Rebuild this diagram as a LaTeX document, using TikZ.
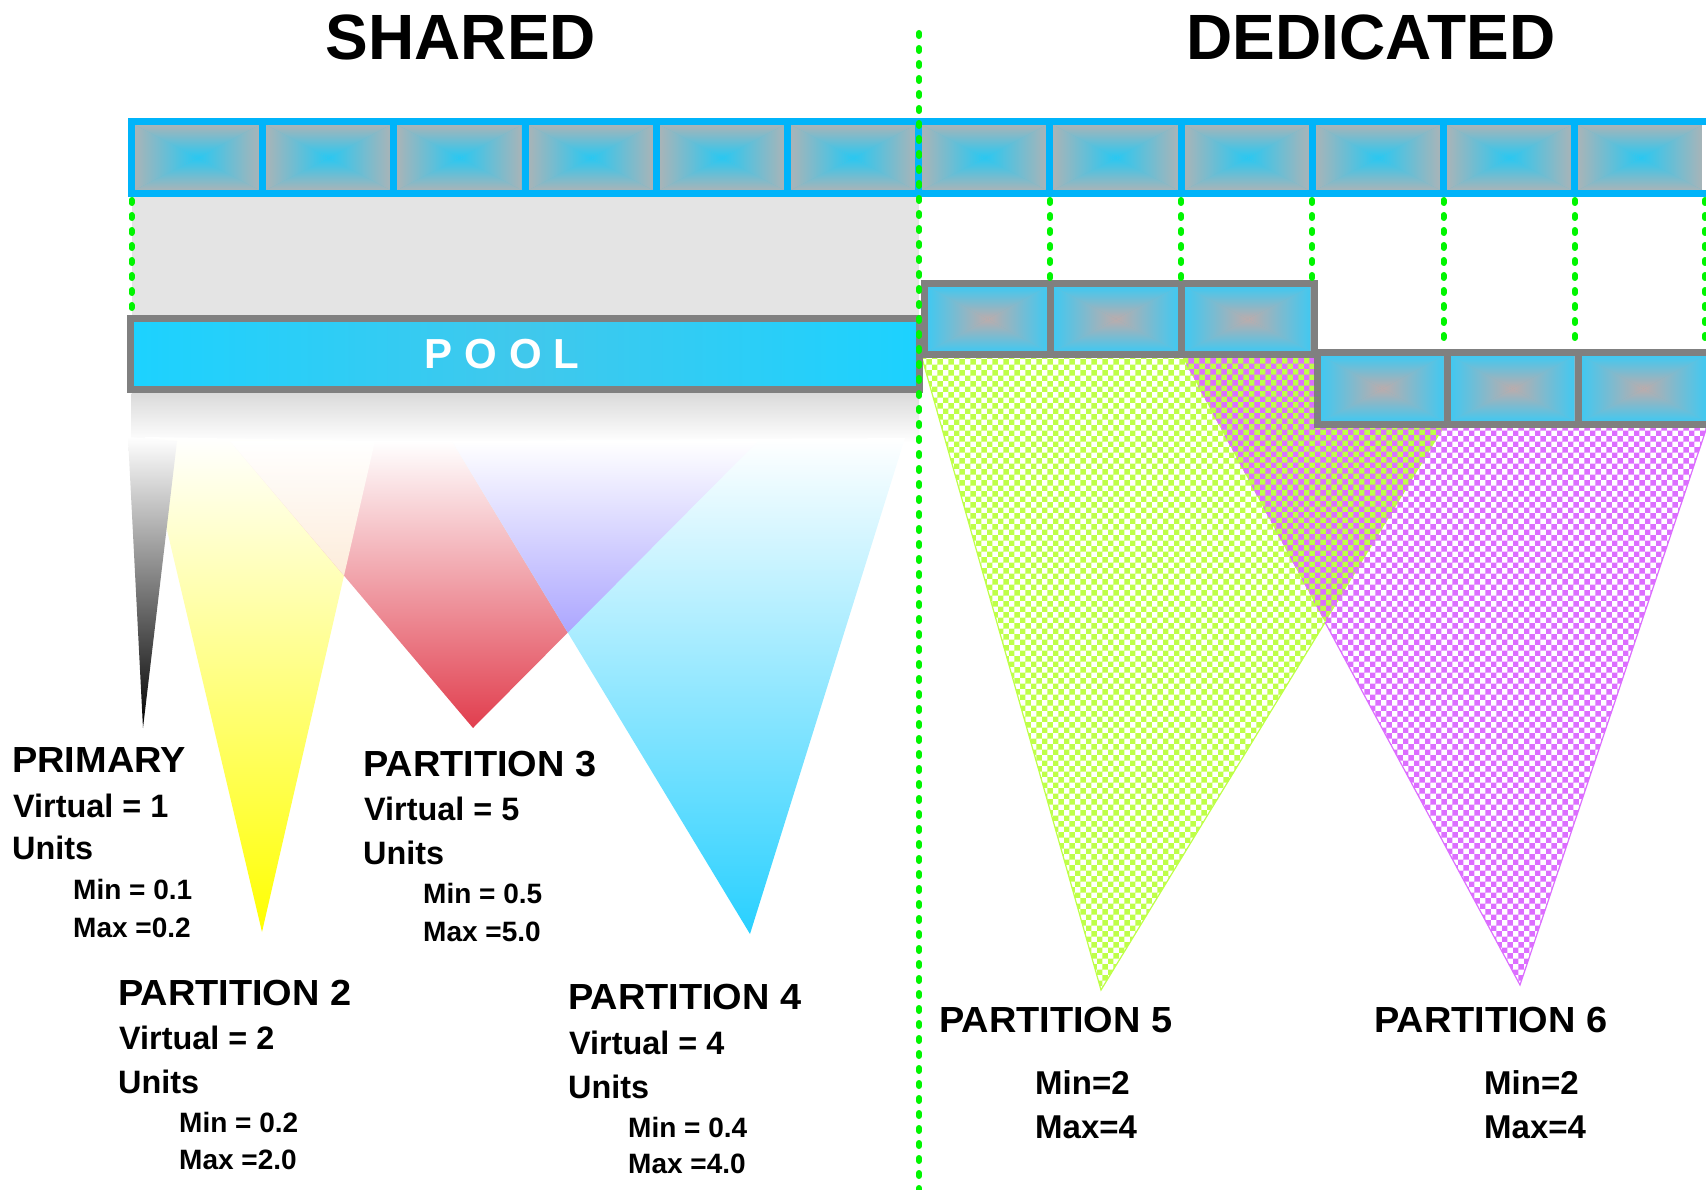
\documentclass[tikz,border=0pt]{standalone}
\usepackage{fontspec}
\setmainfont{Liberation Sans}
\newfontfamily\headfont[FakeStretch=1.045]{Liberation Sans}
\usetikzlibrary{patterns}

\definecolor{topblue}{RGB}{0,180,250}
\definecolor{rimgray}{RGB}{128,128,128}
\definecolor{dotgreen}{RGB}{0,245,0}
\definecolor{cellgray}{RGB}{168,180,184}
\definecolor{cellcyan}{RGB}{40,200,242}
\definecolor{dedcyan}{RGB}{66,200,240}
\definecolor{dedgray}{RGB}{188,172,172}
\definecolor{poolcyan}{RGB}{64,200,236}
\definecolor{poolbright}{RGB}{28,210,255}
\definecolor{hazegray}{RGB}{228,228,228}
\definecolor{shadowgray}{RGB}{218,218,218}
\definecolor{pfivegreen}{RGB}{190,255,72}
\definecolor{psixmagenta}{RGB}{220,110,255}
\definecolor{pthreered}{RGB}{225,62,78}
\definecolor{pfourcyan}{RGB}{40,208,255}
\definecolor{lavender}{RGB}{172,166,255}
\definecolor{peach}{RGB}{253,236,218}

% one processor unit: four shaded wedges meeting in the middle
\newcommand\cpucell[6]{%
  \fill[#5!55!#6] (#1,#2) rectangle (#3,#4);
  \shade[top color=#5, bottom color=#6] (#1,#2) -- (#3,#2) -- ({(#1+#3)/2},{(#2+#4)/2}) -- cycle;
  \shade[top color=#6, bottom color=#5] (#1,#4) -- (#3,#4) -- ({(#1+#3)/2},{(#2+#4)/2}) -- cycle;
  \shade[left color=#5, right color=#6] (#1,#2) -- (#1,#4) -- ({(#1+#3)/2},{(#2+#4)/2}) -- cycle;
  \shade[left color=#6, right color=#5] (#3,#2) -- (#3,#4) -- ({(#1+#3)/2},{(#2+#4)/2}) -- cycle;
}

\tikzset{
  sidetitle/.style={font=\fontsize{64}{64}\selectfont\bfseries, anchor=base, inner sep=0},
  parthead/.style={font=\headfont\fontsize{36.3}{40}\selectfont\bfseries, anchor=base west, inner sep=0},
  partline/.style={font=\fontsize{32.4}{36}\selectfont\bfseries, anchor=base west, inner sep=0},
  rangeline/.style={font=\fontsize{28}{30}\selectfont\bfseries, anchor=base west, inner sep=0},
  dedline/.style={font=\fontsize{33}{36}\selectfont\bfseries, anchor=base west, inner sep=0},
  gdots/.style={draw=dotgreen, line width=6pt, line cap=round, dash pattern=on 3pt off 12pt},
  bluerim/.style={draw=topblue, line width=7pt},
  grayrim/.style={draw=rimgray, line width=7pt},
}

\begin{document}
\begin{tikzpicture}[x=1pt, y=-1pt]
\useasboundingbox (0,0) rectangle (1706,1190);

% ---------- shared side: haze between the unit row and the pool ----------
\fill[hazegray] (131.5,197) rectangle (919,315);
\shade[top color=shadowgray, bottom color=white] (131.5,393) rectangle (919,442);

% funnel corners
\coordinate (A1) at (128,437); \coordinate (A2) at (177,441); \coordinate (A3) at (143,728);
\coordinate (Y1) at (145,437); \coordinate (Y2) at (375,441); \coordinate (Y3) at (262,932);
\coordinate (R1) at (230,441); \coordinate (R2) at (758,441); \coordinate (R3) at (473,728);
\coordinate (C1) at (452,441); \coordinate (C2) at (905,438); \coordinate (C3) at (750,934);

\shade[top color=white, bottom color=yellow] (Y1) -- (Y2) -- (Y3) -- cycle;
\shade[top color=white, bottom color=black] (A1) -- (A2) -- (A3) -- cycle;
\shade[top color=white, bottom color=pthreered] (R1) -- (R2) -- (R3) -- cycle;
\shade[top color=white, bottom color=pfourcyan] (C1) -- (C2) -- (C3) -- cycle;
\shade[top color=white, bottom color=peach]
  (R1) -- (Y2) -- (intersection of Y2--Y3 and R1--R3) -- cycle;
\shade[top color=white, bottom color=lavender]
  (C1) -- (R2) -- (intersection of R2--R3 and C1--C3) -- cycle;

% ---------- dedicated side: checkered funnels ----------
\coordinate (G1) at (922,358); \coordinate (G2) at (1486,358); \coordinate (G3) at (1101,990);
\coordinate (M1) at (1183,358); \coordinate (M2) at (1730,358); \coordinate (M3) at (1520,985);
\coordinate (GM) at (intersection of G2--G3 and M1--M3);

\fill[pattern=checkerboard, pattern color=pfivegreen] (G1) -- (G2) -- (G3) -- cycle;
\fill[pattern=checkerboard, pattern color=psixmagenta] (M1) -- (M2) -- (M3) -- cycle;
\fill[pfivegreen] (M1) -- (G2) -- (GM) -- cycle;
\fill[pattern=checkerboard, pattern color=psixmagenta] (M1) -- (G2) -- (GM) -- cycle;
\draw[pfivegreen, line width=1.2pt] (G1) -- (G3) -- (GM);
\draw[psixmagenta, line width=1.2pt] (GM) -- (M3) -- (M2);

% ---------- row of twelve physical units ----------
\foreach \k in {0,...,11}{
  \pgfmathsetmacro\xa{131.5+\k*131.2+3.5}
  \pgfmathsetmacro\xb{131.5+(\k+1)*131.2-3.5}
  \cpucell{\xa}{125}{\xb}{190}{cellgray}{cellcyan}
}
\draw[bluerim] (131.5,121.5) rectangle (1740,193.5);
\foreach \k in {1,...,11}
  \draw[bluerim] ({131.5+\k*131.2},121.5) -- ({131.5+\k*131.2},193.5);

% ---------- pool ----------
\draw[grayrim, left color=poolbright, right color=poolbright, middle color=poolcyan]
  (130.5,318.5) rectangle (919,389.5);
\node[font=\fontsize{42}{42}\selectfont\bfseries, text=white, anchor=base, inner sep=0]
  (pool) at (502,368) {P\kern12pt O\kern12pt O\kern12pt L};

% ---------- dedicated unit rows ----------
\cpucell{928}{287}{1047}{351}{dedcyan}{dedgray}
\cpucell{1054}{287}{1178}{351}{dedcyan}{dedgray}
\cpucell{1185}{287}{1310.5}{351}{dedcyan}{dedgray}
\draw[grayrim] (924.5,283.5) rectangle (1314,354.5);
\draw[grayrim] (1050.5,283.5) -- (1050.5,354.5);
\draw[grayrim] (1181.5,283.5) -- (1181.5,354.5);

\cpucell{1321}{356}{1443.5}{421}{dedcyan}{dedgray}
\cpucell{1450.5}{356}{1574.5}{421}{dedcyan}{dedgray}
\cpucell{1581.5}{356}{1705.5}{421}{dedcyan}{dedgray}
\draw[grayrim] (1317.5,352.5) rectangle (1745,424.5);
\draw[grayrim] (1447,352.5) -- (1447,424.5);
\draw[grayrim] (1578,352.5) -- (1578,424.5);

% ---------- dotted green guides ----------
\draw[gdots] (131.5,200) -- (131.5,314);
\draw[gdots] (1050,200) -- (1050,280);
\draw[gdots] (1181,200) -- (1181,280);
\draw[gdots] (1312,200) -- (1312,280);
\draw[gdots] (1443.5,200) -- (1443.5,349);
\draw[gdots] (1574.7,200) -- (1574.7,349);
\draw[gdots] (1705,200) -- (1705,349);
\draw[gdots] (919,33) -- (919,1190);

% ---------- headings ----------
\node[sidetitle] (shared) at (461,60) {SHARED};
\node[sidetitle] (dedicated) at (1371,60) {DEDICATED};

% ---------- shared partition labels ----------
\node[parthead]  (prim)  at (12,772) {PRIMARY};
\node[partline]  (primv) at (13,817) {Virtual = 1};
\node[partline]  (primu) at (12,859) {Units};
\node[rangeline] (primn) at (73,899) {Min = 0.1};
\node[rangeline] (primx) at (73,937) {Max =0.2};

\node[parthead]  (ptwo)  at (118,1005) {PARTITION 2};
\node[partline]  (ptwov) at (119,1049) {Virtual = 2};
\node[partline]  (ptwou) at (118,1093) {Units};
\node[rangeline] (ptwon) at (179,1132) {Min = 0.2};
\node[rangeline] (ptwox) at (179,1169) {Max =2.0};

\node[parthead]  (pthree)  at (363,776) {PARTITION 3};
\node[partline]  (pthreev) at (364,820) {Virtual = 5};
\node[partline]  (pthreeu) at (363,864) {Units};
\node[rangeline] (pthreen) at (423,903) {Min = 0.5};
\node[rangeline] (pthreex) at (423,941) {Max =5.0};

\node[parthead]  (pfour)  at (568,1009) {PARTITION 4};
\node[partline]  (pfourv) at (569,1054) {Virtual = 4};
\node[partline]  (pfouru) at (568,1098) {Units};
\node[rangeline] (pfourn) at (628,1137) {Min = 0.4};
\node[rangeline] (pfourx) at (628,1173) {Max =4.0};

% ---------- dedicated partition labels ----------
\node[parthead] (pfive)  at (939,1032) {PARTITION 5};
\node[dedline]  (pfiven) at (1035,1094) {Min=2};
\node[dedline]  (pfivex) at (1035,1138) {Max=4};

\node[parthead] (psix)  at (1374,1032) {PARTITION 6};
\node[dedline]  (psixn) at (1484,1094) {Min=2};
\node[dedline]  (psixx) at (1484,1138) {Max=4};
\end{tikzpicture}
\end{document}
